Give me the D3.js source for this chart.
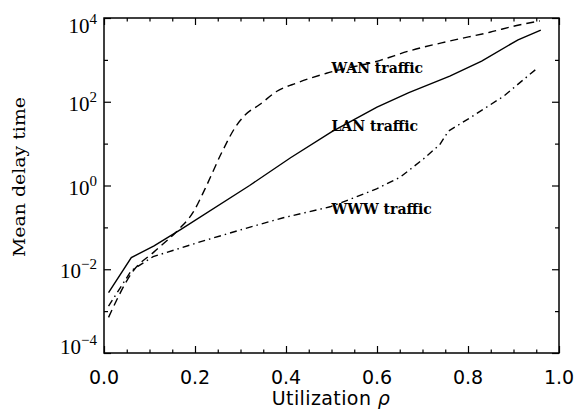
<!DOCTYPE html>
<html>
<head>
<meta charset="utf-8">
<script src="https://cdn.jsdelivr.net/npm/d3@7"></script>
<style>
  html, body { margin: 0; padding: 0; background: #fff; }
  svg { display: block; }
</style>
</head>
<body>
<svg id="chart" width="575" height="414"></svg>
<script>
// Mean delay time versus utilization for three traffic types
const lanRho   = [0.01, 0.06, 0.11, 0.17, 0.32, 0.41, 0.50, 0.60, 0.67, 0.76, 0.83, 0.91, 0.96];
const lanDelay = [2.75e-3, 1.9e-2, 3.6e-2, 9.1e-2, 1.0, 4.6, 19, 74, 166, 407, 933, 3020, 5130];

const wanRho   = [0.01, 0.064, 0.11, 0.163, 0.196, 0.222, 0.259, 0.29, 0.31, 0.343, 0.38, 0.424, 0.489, 0.607, 0.673, 0.76, 0.848, 0.907, 0.958];
const wanDelay = [7.1e-4, 9.1e-3, 2.6e-2, 8.7e-2, 0.23, 0.83, 6.2, 26, 48, 87, 178, 282, 479, 977, 1660, 2820, 4570, 6610, 8510];

const wwwRho   = [0.01, 0.06, 0.108, 0.211, 0.306, 0.394, 0.497, 0.537, 0.599, 0.651, 0.702, 0.738, 0.757, 0.804, 0.878, 0.951];
const wwwDelay = [1.32e-3, 9.3e-3, 2.0e-2, 4.5e-2, 9.1e-2, 0.17, 0.31, 0.45, 0.83, 1.58, 4.3, 9.5, 20, 41, 135, 617];

const seriesNames = ["WAN traffic", "LAN traffic", "WWW traffic"];
const labelRho    = [0.5, 0.5, 0.5];
const labelDelay  = [650, 26, 0.275];

const xTicks      = [0, 0.2, 0.4, 0.6, 0.8, 1.0];
const xTickLabels = ["0.0", "0.2", "0.4", "0.6", "0.8", "1.0"];
const xMinorTicks = [0.05, 0.1, 0.15, 0.25, 0.3, 0.35, 0.45, 0.5, 0.55, 0.65, 0.7, 0.75, 0.85, 0.9, 0.95];
const yTicks      = [1e-4, 1e-2, 1, 1e2, 1e4];
const yTickExps   = ["\u22124", "\u22122", "0", "2", "4"];
const yMinorTicks = [1e-3, 1e-1, 1e1, 1e3];

const svg = d3.select("#chart");
const L = 104, R = 559, T = 18, B = 353;

const x = d3.scaleLinear().domain([0, 1]).range([L, R]);
const y = d3.scaleLog().domain([1e-4, 1e4]).range([B, T]);

// inward-pointing ticks on all four sides
function tickAxis(axis, tf) {
  const g = svg.append("g").attr("transform", tf).call(axis);
  g.select(".domain").remove();
  g.selectAll(".tick line").attr("stroke", "#000").attr("stroke-width", 1.2);
  g.selectAll(".tick text").remove();
  return g;
}
tickAxis(d3.axisBottom(x).tickValues(xTicks).tickSize(-7).tickFormat(""), `translate(0,${B})`);
tickAxis(d3.axisBottom(x).tickValues(xMinorTicks).tickSize(-3.5).tickFormat(""), `translate(0,${B})`);
tickAxis(d3.axisTop(x).tickValues(xTicks).tickSize(-7).tickFormat(""), `translate(0,${T})`);
tickAxis(d3.axisTop(x).tickValues(xMinorTicks).tickSize(-3.5).tickFormat(""), `translate(0,${T})`);
tickAxis(d3.axisLeft(y).tickValues(yTicks).tickSize(-7).tickFormat(""), `translate(${L},0)`);
tickAxis(d3.axisLeft(y).tickValues(yMinorTicks).tickSize(-4).tickFormat(""), `translate(${L},0)`);
tickAxis(d3.axisRight(y).tickValues(yTicks).tickSize(-7).tickFormat(""), `translate(${R},0)`);
tickAxis(d3.axisRight(y).tickValues(yMinorTicks).tickSize(-4).tickFormat(""), `translate(${R},0)`);

// plot frame
svg.append("rect")
  .attr("x", L).attr("y", T).attr("width", R - L).attr("height", B - T)
  .attr("fill", "none").attr("stroke", "#000").attr("stroke-width", 1.5);

// x tick labels
svg.append("g").selectAll("text").data(xTicks).join("text")
  .attr("x", d => x(d)).attr("y", 384)
  .attr("text-anchor", "middle")
  .attr("font-family", "DejaVu Sans").attr("font-size", 19)
  .attr("fill", "#000")
  .text((d, i) => xTickLabels[i]);

// y tick labels as powers of ten; end labels nudged inside the frame height
const yl = svg.append("g").selectAll("text").data(yTicks).join("text")
  .attr("x", 97)
  .attr("y", (d, i) => y(d) + (i === yTicks.length - 1 ? 15 : i === 0 ? 1 : 9))
  .attr("text-anchor", "end")
  .attr("font-family", "Liberation Serif").attr("fill", "#000");
yl.append("tspan").attr("font-size", 21).text("10");
yl.append("tspan").attr("font-size", 15).attr("dy", -9).text((d, i) => yTickExps[i]);

// axis titles
const xt = svg.append("text")
  .attr("x", 331).attr("y", 405).attr("text-anchor", "middle")
  .attr("font-family", "DejaVu Sans").attr("font-size", 19)
  .attr("letter-spacing", 0.4).attr("fill", "#000");
xt.append("tspan").text("Utilization ");
xt.append("tspan").attr("font-style", "italic").text("\u03c1");

svg.append("text")
  .attr("transform", "translate(25,177) rotate(-90)")
  .attr("text-anchor", "middle")
  .attr("font-family", "DejaVu Serif").attr("font-size", 17)
  .attr("fill", "#000")
  .attr("textLength", 160).attr("lengthAdjust", "spacingAndGlyphs")
  .text("Mean delay time");

// curves: LAN and WWW have sharp knees, WAN bends smoothly
const series = [
  { rho: wanRho, delay: wanDelay, dash: "8,5", curve: d3.curveMonotoneX },
  { rho: lanRho, delay: lanDelay, dash: null, curve: d3.curveLinear },
  { rho: wwwRho, delay: wwwDelay, dash: "7,4,1.5,4", curve: d3.curveLinear }
];
svg.append("g").selectAll("path").data(series).join("path")
  .attr("d", s => d3.line().x(d => x(d[0])).y(d => y(d[1])).curve(s.curve)(s.rho.map((r, i) => [r, s.delay[i]])))
  .attr("fill", "none").attr("stroke", "#000").attr("stroke-width", 1.4)
  .attr("stroke-dasharray", s => s.dash);

// in-plot series labels
svg.append("g").selectAll("text").data(seriesNames).join("text")
  .attr("x", (d, i) => x(labelRho[i]))
  .attr("y", (d, i) => y(labelDelay[i]))
  .attr("dominant-baseline", "central")
  .attr("font-family", "DejaVu Serif").attr("font-weight", "bold").attr("font-size", 14)
  .attr("fill", "#000")
  .text(d => d);
</script>
</body>
</html>
